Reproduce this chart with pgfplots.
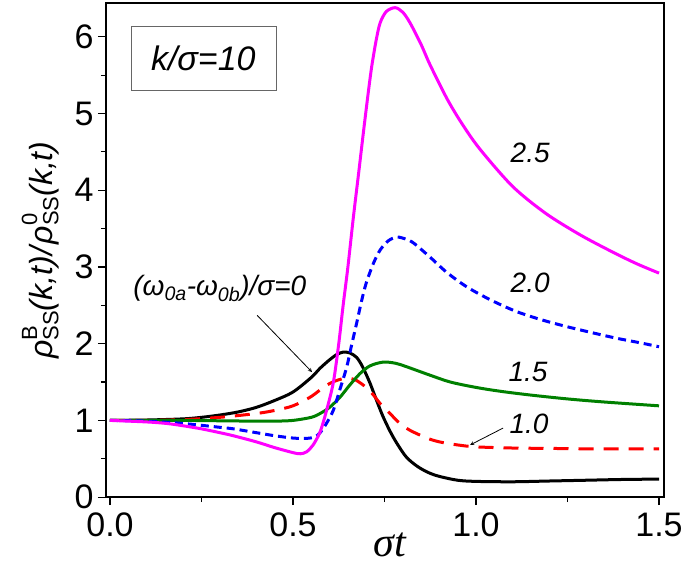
\documentclass[border=0pt]{standalone}
\usepackage{fontspec}
\setmainfont{Liberation Sans}
\newfontfamily\seriffont{Liberation Serif}
\usepackage{pgfplots}
\pgfplotsset{compat=1.18}
\definecolor{mgreen}{RGB}{0,128,0}
\definecolor{mmag}{RGB}{255,0,255}
\definecolor{mblue}{RGB}{0,0,255}
\definecolor{mred}{RGB}{255,0,0}
\newcommand\rs[1]{\textit{ρ}\rlap{\raisebox{0.9ex}{\fontsize{22}{24}\selectfont #1}}\raisebox{-0.35ex}{\fontsize{22}{24}\selectfont SS}}
\begin{document}
\begin{tikzpicture}
\begin{axis}[
  scale only axis, width=558pt, height=494pt,
  xmin=-0.011, xmax=1.5137, ymin=0, ymax=6.44,
  axis line style={line width=1.3pt},
  tick pos=left, tick align=outside,
  major tick length=8pt, minor tick length=5pt,
  every tick/.style={black, line width=1.2pt},
  xtick={0,0.5,1,1.5}, minor x tick num=1,
  ytick={0,1,2,3,4,5,6}, minor y tick num=1,
  xticklabel style={/pgf/number format/fixed,/pgf/number format/fixed zerofill,/pgf/number format/precision=1, yshift=-4pt},
  yticklabel style={xshift=-1pt},
  /pgf/number format/assume math mode=true,
  tick label style={font=\fontsize{34}{40}\selectfont},
  clip=false,
]
\addplot[black, line width=3pt, smooth] coordinates {
(0,1.0) (0.1,1.005) (0.2,1.02) (0.25,1.04) (0.3,1.07) (0.35,1.11) (0.4,1.17) (0.45,1.26) (0.5,1.37) (0.55,1.56) (0.574,1.68) (0.6,1.79) (0.62,1.86) (0.637,1.89) (0.655,1.88) (0.674,1.82) (0.69,1.70) (0.71,1.49) (0.73,1.24) (0.746,1.05) (0.765,0.86) (0.784,0.70) (0.81,0.52) (0.84,0.40) (0.87,0.32) (0.9,0.27) (0.95,0.22) (1.0,0.205) (1.1,0.20) (1.2,0.21) (1.3,0.22) (1.4,0.23) (1.5,0.235)};
\addplot[mred, line width=3pt, smooth, dash pattern=on 15pt off 10pt] coordinates {
(0,1.0) (0.1,1.0) (0.2,1.01) (0.3,1.04) (0.4,1.09) (0.45,1.13) (0.5,1.19) (0.546,1.30) (0.575,1.40) (0.6,1.48) (0.625,1.53) (0.647,1.55) (0.67,1.53) (0.70,1.43) (0.72,1.33) (0.738,1.22) (0.765,1.09) (0.79,0.97) (0.82,0.87) (0.866,0.77) (0.9,0.72) (0.95,0.68) (1.0,0.655) (1.1,0.64) (1.2,0.635) (1.3,0.63) (1.5,0.63)};
\addplot[mgreen, line width=3pt, smooth] coordinates {
(0,1.0) (0.1,1.0) (0.2,1.0) (0.3,0.995) (0.4,0.99) (0.45,0.99) (0.5,1.0) (0.55,1.04) (0.574,1.09) (0.6,1.17) (0.628,1.30) (0.655,1.46) (0.683,1.61) (0.71,1.71) (0.746,1.76) (0.78,1.745) (0.81,1.70) (0.874,1.59) (0.93,1.50) (1.0,1.43) (1.066,1.38) (1.15,1.33) (1.25,1.28) (1.35,1.24) (1.5,1.19)};
\addplot[mblue, line width=3pt, smooth, dash pattern=on 8pt off 5pt] coordinates {
(0,1.0) (0.1,0.99) (0.2,0.96) (0.3,0.91) (0.337,0.89) (0.4,0.84) (0.45,0.80) (0.5,0.77) (0.537,0.765) (0.56,0.785) (0.574,0.84) (0.59,0.95) (0.61,1.13) (0.628,1.40) (0.647,1.70) (0.66,1.98) (0.674,2.27) (0.687,2.55) (0.70,2.79) (0.72,3.05) (0.738,3.22) (0.76,3.34) (0.784,3.39) (0.81,3.36) (0.83,3.31) (0.874,3.13) (0.92,2.93) (0.975,2.74) (1.04,2.57) (1.11,2.42) (1.18,2.31) (1.25,2.22) (1.32,2.14) (1.385,2.07) (1.45,2.01) (1.5,1.96)};
\addplot[mmag, line width=3pt, smooth] coordinates {
(0,1.0) (0.1,0.98) (0.155,0.96) (0.2,0.93) (0.25,0.89) (0.3,0.84) (0.337,0.80) (0.4,0.72) (0.45,0.645) (0.5,0.58) (0.52,0.565) (0.537,0.59) (0.555,0.68) (0.574,0.85) (0.59,1.10) (0.61,1.49) (0.625,2.0) (0.637,2.5) (0.65,3.0) (0.665,3.65) (0.68,4.25) (0.692,4.74) (0.705,5.25) (0.715,5.61) (0.727,5.95) (0.738,6.18) (0.755,6.33) (0.779,6.38) (0.80,6.32) (0.82,6.18) (0.85,5.90) (0.874,5.64) (0.92,5.2) (0.96,4.88) (1.01,4.54) (1.10,4.05) (1.19,3.70) (1.284,3.42) (1.375,3.19) (1.44,3.04) (1.5,2.92)};
\node[draw=black!60, line width=0.6pt, minimum width=145pt, minimum height=63pt, font=\fontsize{34}{40}\selectfont\itshape] at (axis cs:0.255,5.72) {k/σ=10};
\node[font=\fontsize{28}{32}\selectfont\itshape] at (axis cs:1.148,4.49) {2.5};
\node[font=\fontsize{28}{32}\selectfont\itshape] at (axis cs:1.148,2.79) {2.0};
\node[font=\fontsize{28}{32}\selectfont\itshape] at (axis cs:1.142,1.63) {1.5};
\node[font=\fontsize{28}{32}\selectfont\itshape] at (axis cs:1.145,0.96) {1.0};
\draw[-stealth, line width=0.8pt] (axis cs:1.074,0.90) -- (axis cs:0.984,0.68);
\node[font=\fontsize{28}{32}\selectfont\itshape] at (axis cs:0.30,2.72) {(ω\textsubscript{0a}-ω\textsubscript{0b})/σ=0};
\draw[-stealth, line width=0.8pt] (axis cs:0.402,2.37) -- (axis cs:0.552,1.63);
\node[rotate=90, font=\fontsize{32}{38}\selectfont] at (axis cs:-0.19,3.22) {\rs{B}\textit{(k,t)/}\rs{0}\textit{(k,t)}};
\node[font=\fontsize{42}{48}\selectfont\seriffont\itshape] at (axis cs:0.765,-0.62) {σt};
\coordinate (bl) at (axis cs:-0.3005,-0.887);
\coordinate (tr) at (axis cs:1.571,6.48);
\end{axis}
\pgfresetboundingbox
\path[use as bounding box] (bl) rectangle (tr);
\end{tikzpicture}
\end{document}
